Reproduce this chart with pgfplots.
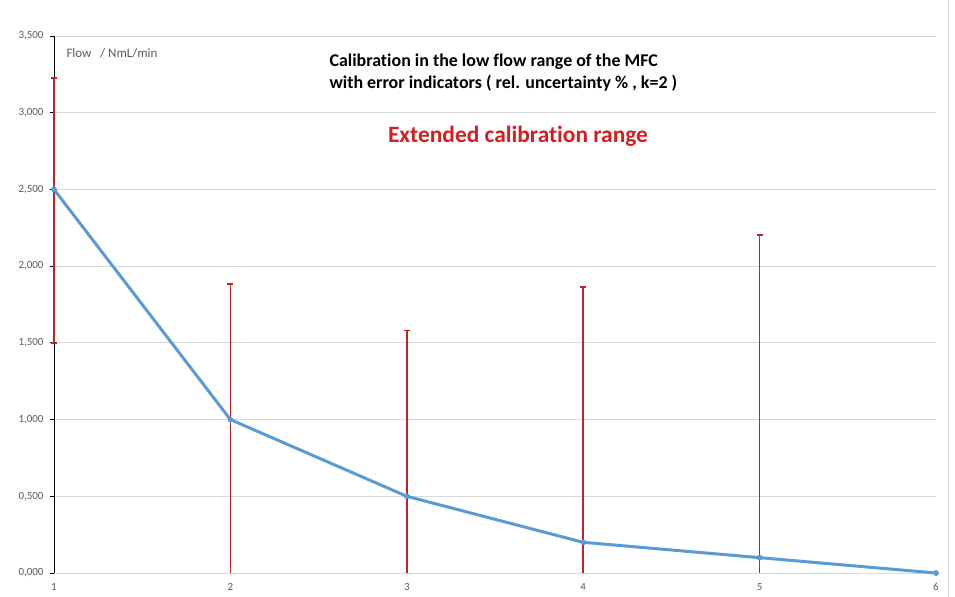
\documentclass[border=0pt]{standalone}
\usepackage{pgfplots}
\pgfplotsset{compat=1.18}
\usepackage{fontspec}
\setmainfont{Carlito}[Ligatures={NoCommon}]
\definecolor{lineblue}{RGB}{91,155,213}
\definecolor{errred}{RGB}{190,35,40}
\definecolor{tickgray}{RGB}{89,89,89}
\definecolor{gridgray}{RGB}{217,217,217}
\definecolor{titlered}{RGB}{215,30,30}
\begin{document}
\begin{tikzpicture}
\begin{axis}[
  at={(0,0)}, anchor=south west,
  scale only axis, width=882bp, height=537bp,
  xmin=1, xmax=6, ymin=0, ymax=3.5,
  axis x line*=bottom, axis y line*=left,
  x axis line style={draw=gridgray, line width=0.8bp, -},
  y axis line style={draw=black, line width=0.8bp, -},
  xtick={1,2,3,4,5,6},
  ytick={0,0.5,1,1.5,2,2.5,3,3.5},
  xtick style={draw=none},
  ytick style={draw=black, line width=0.8bp},
  tick align=outside, major tick length=4bp,
  ymajorgrids, grid style={draw=gridgray, line width=0.8bp},
  /pgf/number format/assume math mode=true,
  tick label style={font=\fontsize{11}{13}\selectfont, text=tickgray},
  yticklabel style={font=\fontsize{11}{13}\selectfont, text=tickgray, xshift=-3bp},
  xticklabel style={font=\fontsize{11}{13}\selectfont, text=tickgray, yshift=-3bp},
  yticklabel={\pgfmathprintnumber[fixed, fixed zerofill, precision=3, use comma, 1000 sep={}, assume math mode=true]{\tick}},
  xticklabel={\pgfmathprintnumber[assume math mode=true]{\tick}},
  clip=false,
]
% upper error bars
\addplot[errred, only marks, mark=none, forget plot,
  error bars/.cd, y dir=plus, y explicit, error mark=none,
  error bar style={draw=errred, line width=1.7bp}]
  coordinates {(1,2.5) +- (0,0.727) (2,1.0) +- (0,0.884) (3,0.5) +- (0,1.080) (4,0.2) +- (0,1.662) (5,0.1) +- (0,2.104)};
% lower error bars
\addplot[errred, only marks, mark=none, forget plot,
  error bars/.cd, y dir=minus, y explicit, error mark=none,
  error bar style={draw=errred, line width=1.7bp}]
  coordinates {(1,2.5) +- (0,1.0) (2,1.0) +- (0,1.0) (3,0.5) +- (0,0.5) (4,0.2) +- (0,0.2) (5,0.1) +- (0,0.1)};
% error bar caps
\addplot[errred, only marks, mark=-, mark size=3bp, mark options={line width=1.7bp}, forget plot]
  coordinates {(1,3.227) (1,1.5) (2,1.884) (3,1.580) (4,1.862) (5,2.204)};
% main series
\addplot[lineblue, line width=3bp, mark=*, mark size=2.6bp, mark options={fill=lineblue, draw=lineblue, line width=0.5bp}]
  coordinates {(1,2.5) (2,1.0) (3,0.5) (4,0.2) (5,0.1) (6,0.0)};
\end{axis}
\node[anchor=west, text=tickgray, font=\fontsize{13}{15}\selectfont] at (9bp,520bp) {Flow\ \ \ / NmL/min};
\node[anchor=west, font=\bfseries\fontsize{18}{20}\selectfont] at (272bp,511.3bp) {Calibration in the low flow range of the MFC};
\node[anchor=west, font=\bfseries\fontsize{18}{20}\selectfont] at (272bp,490bp) {with error indicators ( rel. uncertainty \% , k=2 )};
\node[font=\bfseries\fontsize{23.5}{26}\selectfont, text=titlered] at (464bp,436.3bp) {Extended calibration range};
\draw[gridgray, line width=0.8bp] (894bp,-24bp) -- (894bp,573bp);
\pgfresetboundingbox
\path[use as bounding box] (-54bp,-24bp) rectangle (901bp,573bp);
\end{tikzpicture}
\end{document}
